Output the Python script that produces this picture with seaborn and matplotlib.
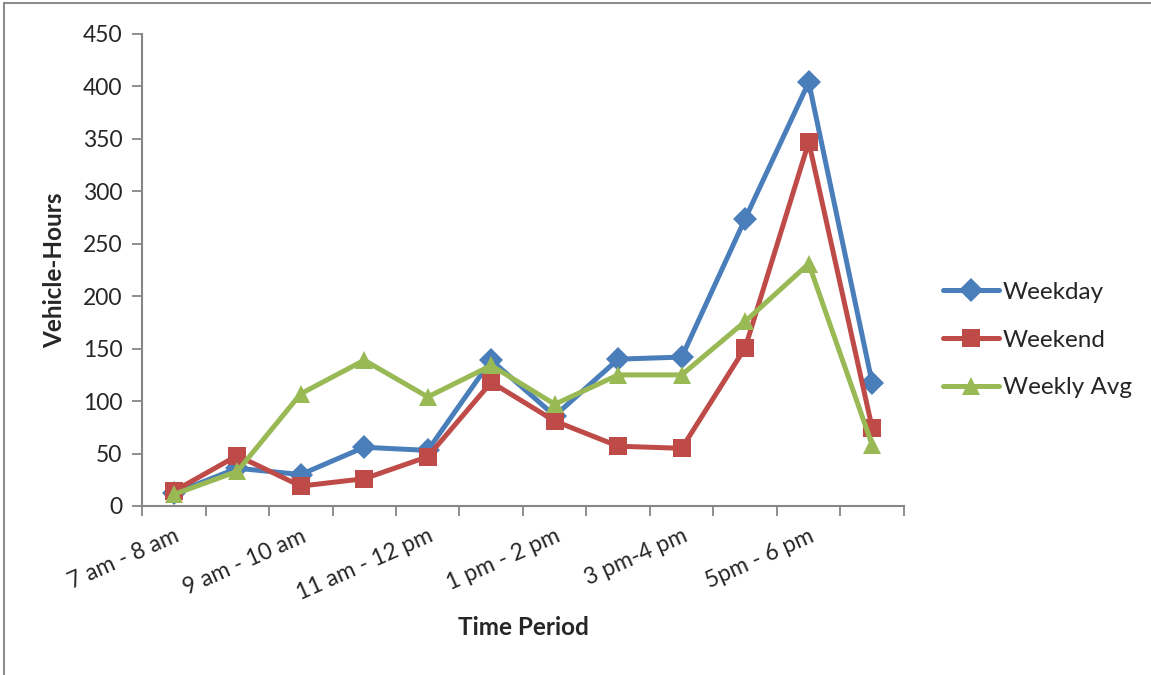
import numpy as np
import pandas as pd
import matplotlib
matplotlib.use("Agg")
import matplotlib.pyplot as plt
import seaborn as sns
from matplotlib.lines import Line2D

# hourly periods (only every other one is labelled on the axis)
periods = ["7 am - 8 am", "8 am - 9 am", "9 am - 10 am", "10 am - 11 am",
           "11 am - 12 pm", "12 pm - 1 pm", "1 pm - 2 pm", "2 pm - 3 pm",
           "3 pm-4 pm", "4 pm - 5 pm", "5pm - 6 pm", "6 pm - 7 pm"]

weekday = [12, 36, 30, 56, 53, 139, 86, 140, 142, 274, 404, 117]
weekend = [14, 48, 19, 26, 47, 118, 81, 57, 55, 151, 347, 74]
weekly_avg = [11, 33, 107, 139, 104, 134, 97, 125, 125, 176, 231, 58]

y_ticks = [0, 50, 100, 150, 200, 250, 300, 350, 400, 450]

df = pd.DataFrame({"pos": np.arange(len(periods)), "period": periods,
                   "Weekday": weekday, "Weekend": weekend,
                   "Weekly Avg": weekly_avg})

sns.set_style("white")
plt.rcParams["font.family"] = ["Lato", "DejaVu Sans"]

fig = plt.figure(figsize=(11.51, 6.75), dpi=100)
ax = fig.add_axes([142 / 1151, 1 - 506 / 675, 762 / 1151, 472 / 675])

series = [("Weekday", "#4A7EBB", "D", 12),
          ("Weekend", "#BE4B48", "s", 13),
          ("Weekly Avg", "#98B954", "^", 13)]
for name, col, mk, ms in series:
    sns.lineplot(data=df, x="pos", y=name, ax=ax, color=col, linewidth=3.6,
                 marker=mk, markersize=ms, markeredgewidth=0, label=name,
                 sort=False)

ax.set_ylim(0, 450)
ax.set_xlim(-0.5, len(periods) - 0.5)
ax.set_yticks(y_ticks)
ax.tick_params(axis="y", labelsize=16.5, length=7, width=1.3, color="#868686",
               pad=7, left=True)

# category labels every other period, tick marks between categories
ax.set_xticks(df["pos"][::2])
ax.set_xticklabels(df["period"][::2], rotation=24, ha="right", va="top",
                   rotation_mode="anchor", fontsize=16.5)
ax.tick_params(axis="x", which="major", length=0, pad=14)
ax.set_xticks(np.arange(-0.5, len(periods)), minor=True)
ax.tick_params(axis="x", which="minor", length=7, width=1.3,
               color="#868686", bottom=True)

for s in ["top", "right"]:
    ax.spines[s].set_visible(False)
for s in ["left", "bottom"]:
    ax.spines[s].set_color("#868686")
    ax.spines[s].set_linewidth(1.5)

ax.set_xlabel("Time Period", fontsize=17.5, fontweight="bold")
ax.set_ylabel("Vehicle-Hours", fontsize=17.5, fontweight="bold")
ax.xaxis.set_label_coords(0.5, -0.232)
ax.yaxis.set_label_coords(-0.1, 0.5)

ax.legend(loc="center left", bbox_to_anchor=(943 / 1151, 1 - 340 / 675),
          bbox_transform=fig.transFigure, frameon=False, fontsize=17.5,
          handlelength=2.3, handletextpad=0.17, labelspacing=1.1,
          borderpad=0, borderaxespad=0)

# chart area border (left and top edges visible)
fig.add_artist(Line2D([4 / 1151, 4 / 1151], [0, 1 - 3 / 675],
                      transform=fig.transFigure, color="#8c8c8c", lw=1.5))
fig.add_artist(Line2D([4 / 1151, 1], [1 - 3 / 675, 1 - 3 / 675],
                      transform=fig.transFigure, color="#8c8c8c", lw=1.5))

fig.savefig("out.png", dpi=100)
